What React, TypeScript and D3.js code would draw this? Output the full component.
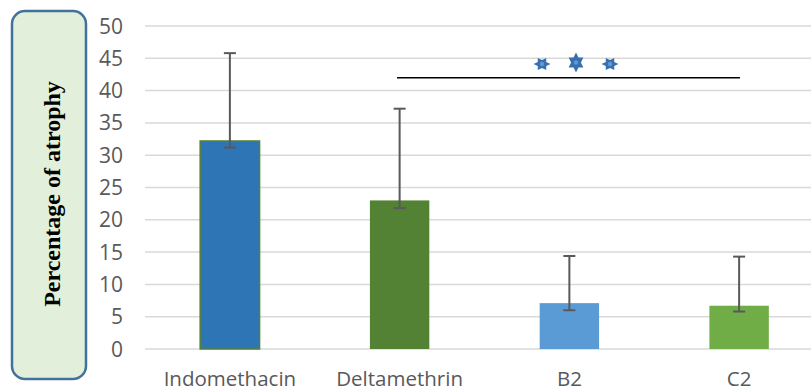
import React from 'react'
import * as d3 from 'd3'

const categories = ['Indomethacin', 'Deltamethrin', 'B2', 'C2']
const values = [32.2, 23.0, 7.1, 6.7]
const errTop = [45.8, 37.2, 14.4, 14.3]
const errBottom = [31.2, 21.8, 6.0, 5.8]
const fills = ['#2E75B6', '#548235', '#5B9BD5', '#70AD47']
const yTicks = [0, 5, 10, 15, 20, 25, 30, 35, 40, 45, 50]
const sigLevel = 42
const stars = ['B2', 'B2', 'B2']

const W = 811
const H = 392

function starPath(cx: number, cy: number, r: number, rot: number) {
  // six pointed star from two triangles
  const pts = (off: number) =>
    d3.range(3).map(i => {
      const a = rot + off + (i * 2 * Math.PI) / 3
      return [cx + r * Math.sin(a), cy - r * Math.cos(a)]
    })
  const tri = (p: number[][]) => 'M' + p.map(q => q.join(',')).join('L') + 'Z'
  return tri(pts(0)) + tri(pts(Math.PI))
}

export default function App() {
  const x = d3.scaleBand().domain(categories).range([145, 824]).paddingInner(0.65).paddingOuter(0.325)
  const y = d3.scaleLinear().domain([0, 50]).range([349, 26])
  const bw = x.bandwidth()
  const lineX0 = 397
  const lineX1 = 740

  return (
    <svg width={W} height={H} style={{ display: 'block', position: 'absolute', left: 0, top: 0 }}>
      <rect width={W} height={H} fill="#fff" />
      {yTicks.map(t => (
        <g key={t}>
          <line x1={145} x2={W} y1={y(t)} y2={y(t)} stroke="#D9D9D9" strokeWidth={1.5} />
          <text x={123} y={y(t)} dy="0.36em" textAnchor="end" fontFamily="Open Sans, sans-serif" fontSize={21} fill="#595959">
            {t}
          </text>
        </g>
      ))}
      {categories.map((c, i) => {
        const cx = x(c)! + bw / 2
        return (
          <g key={c}>
            <rect
              x={x(c)}
              y={y(values[i])}
              width={bw}
              height={y(0) - y(values[i])}
              fill={fills[i]}
              stroke={i === 0 ? '#548235' : 'none'}
              strokeWidth={1.5}
            />
            <line x1={cx} x2={cx} y1={y(errTop[i])} y2={y(errBottom[i])} stroke="#595959" strokeWidth={2} />
            <line x1={cx - 6} x2={cx + 6} y1={y(errTop[i])} y2={y(errTop[i])} stroke="#595959" strokeWidth={2} />
            <line x1={cx - 6} x2={cx + 6} y1={y(errBottom[i])} y2={y(errBottom[i])} stroke="#595959" strokeWidth={2} />
            <text x={cx} y={386} textAnchor="middle" fontFamily="Open Sans, sans-serif" fontSize={20.5} fill="#595959">
              {c}
            </text>
          </g>
        )
      })}
      <line x1={lineX0} x2={lineX1} y1={y(sigLevel)} y2={y(sigLevel)} stroke="#000" strokeWidth={1.5} />
      {stars.map((s, i) => {
        const cx = 542 + i * 34
        const big = i === 1
        const cy = big ? 62.5 : 64
        const d = big ? starPath(cx, cy, 10, 0) : starPath(cx, cy, 8.5, Math.PI / 2)
        const tf = big
          ? `translate(${cx},${cy}) scale(0.85,1) translate(${-cx},${-cy})`
          : `translate(${cx},${cy}) scale(1,0.8) translate(${-cx},${-cy})`
        return (
          <g key={i}>
            <path d={d} fill="#3A6FAE" transform={tf} />
            <circle cx={cx} cy={cy} r={2.2} fill="#5B9BD5" />
          </g>
        )
      })}
      <rect x={12} y={11} width={74} height={368} rx={13} fill="#E2EFDA" stroke="#41719C" strokeWidth={2.5} />
      <text
        transform={`translate(60,194) rotate(-90)`}
        textAnchor="middle"
        fontFamily="Liberation Serif, Times New Roman, serif"
        fontWeight="bold"
        fontSize={24}
        fill="#000"
      >
        Percentage of atrophy
      </text>
    </svg>
  )
}
